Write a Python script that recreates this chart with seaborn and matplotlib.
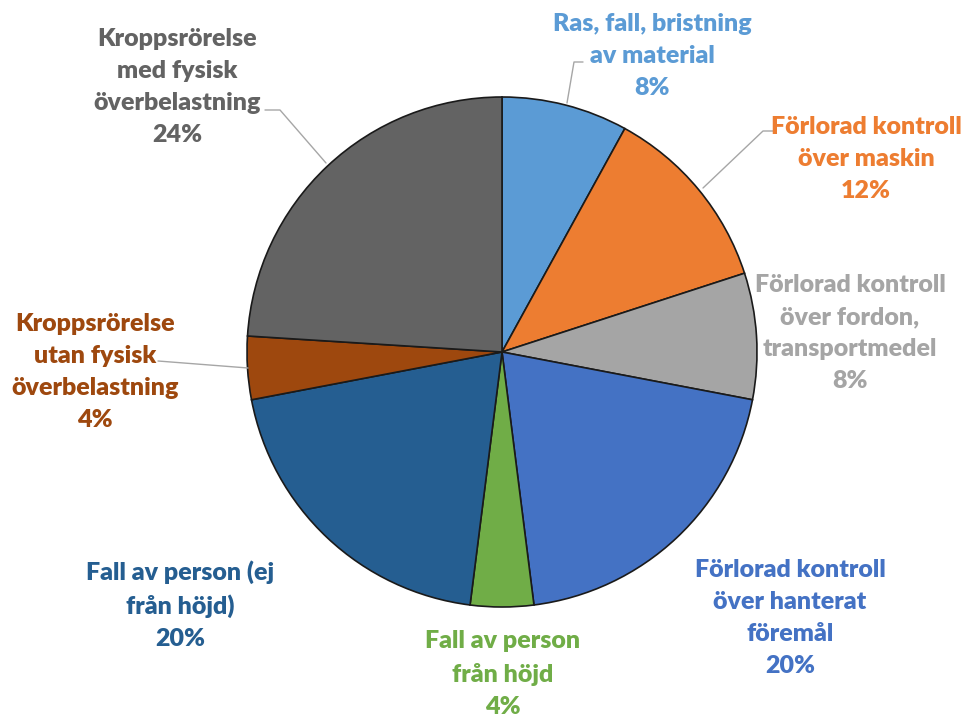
import numpy as np
import seaborn as sns
import matplotlib.pyplot as plt

labels = ["Ras, fall, bristning\nav material",
          "Förlorad kontroll\növer maskin",
          "Förlorad kontroll\növer fordon,\ntransportmedel",
          "Förlorad kontroll\növer hanterat\nföremål",
          "Fall av person\nfrån höjd",
          "Fall av person (ej\nfrån höjd)",
          "Kroppsrörelse\nutan fysisk\növerbelastning",
          "Kroppsrörelse\nmed fysisk\növerbelastning"]
shares = [8, 12, 8, 20, 4, 20, 4, 24]
colors = ["#5B9BD5", "#ED7D31", "#A5A5A5", "#4472C4",
          "#70AD47", "#255E91", "#9E480E", "#636363"]

sns.set_theme(style="white")
plt.rcParams['font.family'] = ['Lato', 'DejaVu Sans']

fig = plt.figure(figsize=(9.74, 7.19), dpi=100)
ax = fig.add_axes([0, 0, 1, 1])

cx, cy, r = 502, 719 - 352, 255
ax.pie(shares, colors=sns.color_palette(colors), startangle=90, counterclock=False,
       center=(cx, cy), radius=r,
       wedgeprops=dict(edgecolor="#1a1a1a", linewidth=1.2))
ax.set_xlim(0, 974)
ax.set_ylim(0, 719)
ax.set_aspect("equal")
ax.axis("off")

# label positions (pixel coords, from top) and optional leader lines
label_pos = [(652, 56), (866, 159), (850, 333), (790, 618),
             (503, 674), (180, 605), (95, 372), (177, 87)]
leaders = {0: [(567, 103), (574, 62), (583, 62)],
           1: [(703, 188), (763, 131), (775, 131)],
           6: [(248, 368), (158, 361)],
           7: [(326, 163), (280, 110), (265, 110)]}

for i, (lab, v) in enumerate(zip(labels, shares)):
    x, y = label_pos[i]
    ax.text(x, 719 - y, f"{lab}\n{v}%", ha="center", va="center",
            color=colors[i], fontsize=18, fontweight="heavy", linespacing=1.55)
    if i in leaders:
        pts = np.array(leaders[i], dtype=float)
        ax.plot(pts[:, 0], 719 - pts[:, 1], color="#a6a6a6", lw=1)

fig.savefig("out.png", dpi=100)
